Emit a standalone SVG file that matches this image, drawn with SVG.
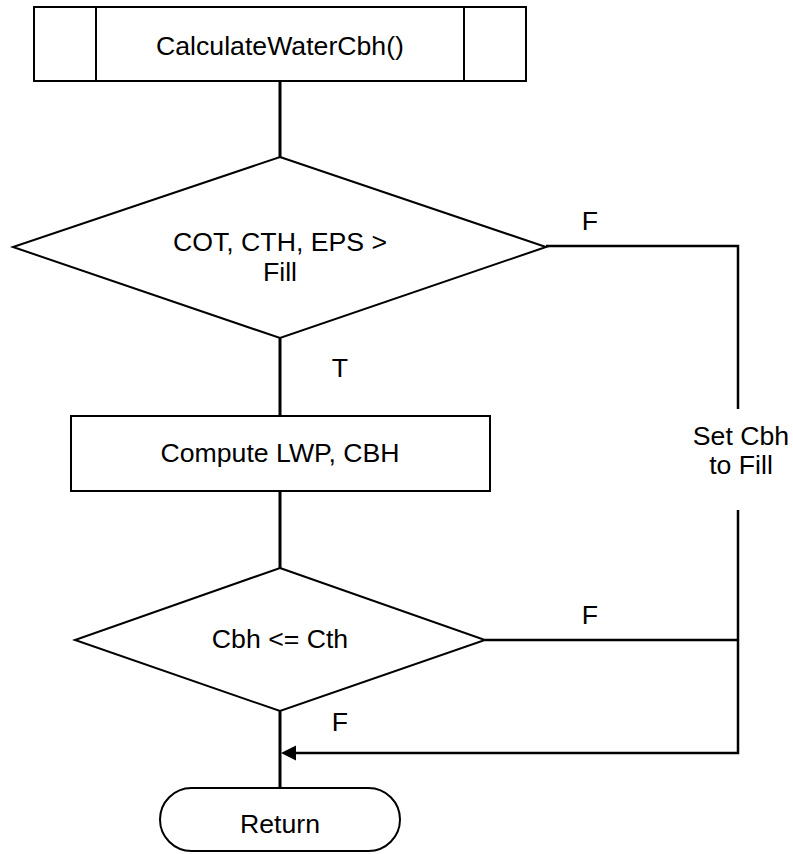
<svg xmlns="http://www.w3.org/2000/svg" width="793" height="854" viewBox="0 0 793 854">
  <style>
    .shape { fill: #ffffff; stroke: #000000; stroke-width: 2; }
    .conn { fill: none; stroke: #000000; stroke-width: 3; }
    .side { fill: none; stroke: #000000; stroke-width: 2.5; }
    text { font-family: "Liberation Sans", Arial, sans-serif; font-size: 26.67px; fill: #000000; text-anchor: middle; }
  </style>
  <defs>
    <marker id="arrow" markerUnits="userSpaceOnUse" markerWidth="16" markerHeight="16" viewBox="0 0 16 16" refX="1" refY="8" orient="auto">
      <path d="M0,8 L15,0.5 L15,15.5 Z" fill="#000000" transform="rotate(180 8 8)"/>
    </marker>
  </defs>

  <rect width="793" height="854" fill="#ffffff"/>

  <!-- connectors -->
  <g id="connectors">
    <line class="conn" x1="280" y1="81" x2="280" y2="157"/>
    <line class="conn" x1="280" y1="338" x2="280" y2="416"/>
    <line class="conn" x1="280" y1="491" x2="280" y2="568"/>
    <line class="conn" x1="280" y1="711" x2="280" y2="788"/>
    <!-- false branch of the first test, down the right side -->
    <polyline class="side" points="546,246 738,246 738,409"/>
    <polyline class="side" points="738,510 738,753 296,753" marker-end="url(#arrow)"/>
    <!-- false branch of the second test -->
    <line class="side" x1="485" y1="640" x2="738" y2="640"/>
    <text x="590" y="230">F</text>
    <text x="340" y="377">T</text>
    <text x="741" y="445">Set Cbh</text>
    <text x="741" y="474">to Fill</text>
    <text x="590" y="624">F</text>
    <text x="340" y="731">F</text>
  </g>

  <g id="start">
    <rect class="shape" x="34" y="7" width="492" height="74"/>
    <line class="shape" x1="96" y1="7" x2="96" y2="81"/>
    <line class="shape" x1="464" y1="7" x2="464" y2="81"/>
    <text x="280" y="55">CalculateWaterCbh()</text>
  </g>

  <g id="check-inputs">
    <polygon class="shape" points="280,157 546,247 280,338 13,247"/>
    <text x="280" y="251">COT, CTH, EPS &gt;</text>
    <text x="280" y="281">Fill</text>
  </g>

  <g id="compute">
    <rect class="shape" x="71" y="416" width="419" height="75"/>
    <text x="280" y="462">Compute LWP, CBH</text>
  </g>

  <g id="check-cbh">
    <polygon class="shape" points="280,568 485,640 280,711 75,640"/>
    <text x="280" y="648">Cbh &lt;= Cth</text>
  </g>

  <g id="return">
    <rect class="shape" x="160" y="788" width="240" height="63" rx="31.5" ry="31.5"/>
    <text x="280" y="833">Return</text>
  </g>
</svg>
